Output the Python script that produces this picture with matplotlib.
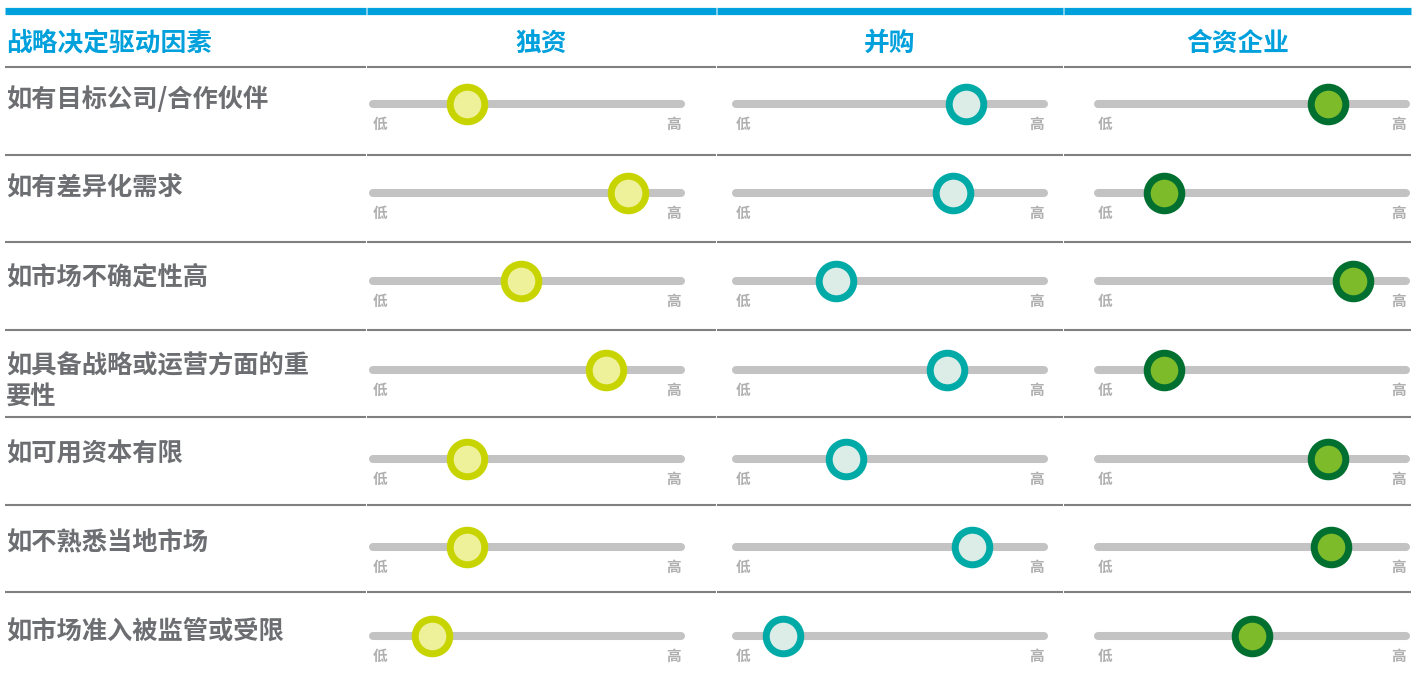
import matplotlib
matplotlib.use("Agg")
import matplotlib.pyplot as plt

plt.rcParams['font.family'] = ['Noto Sans CJK SC', 'DejaVu Sans']

# ---- data ----
header_title = "战略决定驱动因素"
columns = ["独资", "并购", "合资企业"]
factors = [
    "如有目标公司/合作伙伴",
    "如有差异化需求",
    "如市场不确定性高",
    "如具备战略或运营方面的重\n要性",
    "如可用资本有限",
    "如不熟悉当地市场",
    "如市场准入被监管或受限",
]
low_label = "低"
high_label = "高"
wfoe_values = [31, 82, 48, 75, 31, 31, 20]
ma_values = [74, 70, 33, 68, 36, 76, 16]
jv_values = [74, 22, 82, 22, 74, 75, 50]
series = [wfoe_values, ma_values, jv_values]

# ---- style ----
W, H = 1419, 677
BLUE = "#00a0dc"
LABEL_GRAY = "#6d6e71"
LINE_GRAY = "#808080"
TRACK = "#c3c3c3"
TICK_GRAY = "#b0b0b0"
ring_colors = ["#c8d400", "#00aaa6", "#006f2f"]
fill_colors = ["#eef09a", "#dcece6", "#7dbb2a"]
track_x0 = [369, 732, 1094]
track_w = 316
seg_bounds = [(5, 366), (367, 716), (717, 1063), (1064, 1411)]

fig = plt.figure(figsize=(W / 100, H / 100), dpi=100)
ax0 = fig.add_axes([0, 0, 1, 1])
ax0.set_xlim(0, W)
ax0.set_ylim(H, 0)
ax0.axis("off")

# top blue bar
for a, b in seg_bounds:
    ax0.plot([a, b], [10.5, 10.5], color=BLUE, lw=5.2, solid_capstyle="butt")

# header
ax0.text(6, 43, header_title, color=BLUE, fontsize=18.5, fontweight=900,
         ha="left", va="center")
for i, name in enumerate(columns):
    a, b = seg_bounds[i + 1]
    ax0.text((a + b) / 2, 43, name, color=BLUE, fontsize=18.5,
             fontweight=900, ha="center", va="center")

# separators
sep_y = [67 + 87.5 * k for k in range(7)]
for y in sep_y:
    for a, b in seg_bounds:
        ax0.plot([a, b], [y, y], color=LINE_GRAY, lw=1.5, solid_capstyle="butt")

row_y = [104 + 88.67 * i for i in range(len(factors))]

for i, f in enumerate(factors):
    ax0.text(6, row_y[i] - 18, f, color=LABEL_GRAY, fontsize=18.2,
             fontweight=900, ha="left", va="top", linespacing=1.2)

for c in range(3):
    ax = fig.add_axes([track_x0[c] / W, 0, track_w / W, 1])
    ax.set_xlim(0, 100)
    ax.set_ylim(H, 0)
    ax.axis("off")
    for i in range(len(factors)):
        y = row_y[i]
        ax.plot([1.3, 98.7], [y, y], color=TRACK, lw=5.8,
                solid_capstyle="round", zorder=1)
        ax.text(1.3, y + 20, low_label, color=TICK_GRAY, fontsize=10.5,
                fontweight=900, ha="left", va="center")
        ax.text(98.7, y + 20, high_label, color=TICK_GRAY, fontsize=10.5,
                fontweight=900, ha="right", va="center")
    ax.scatter(series[c], row_y, s=620, facecolor=fill_colors[c],
               edgecolor=ring_colors[c], linewidth=5.0, zorder=3,
               clip_on=False)

fig.savefig("out.png", dpi=100)
